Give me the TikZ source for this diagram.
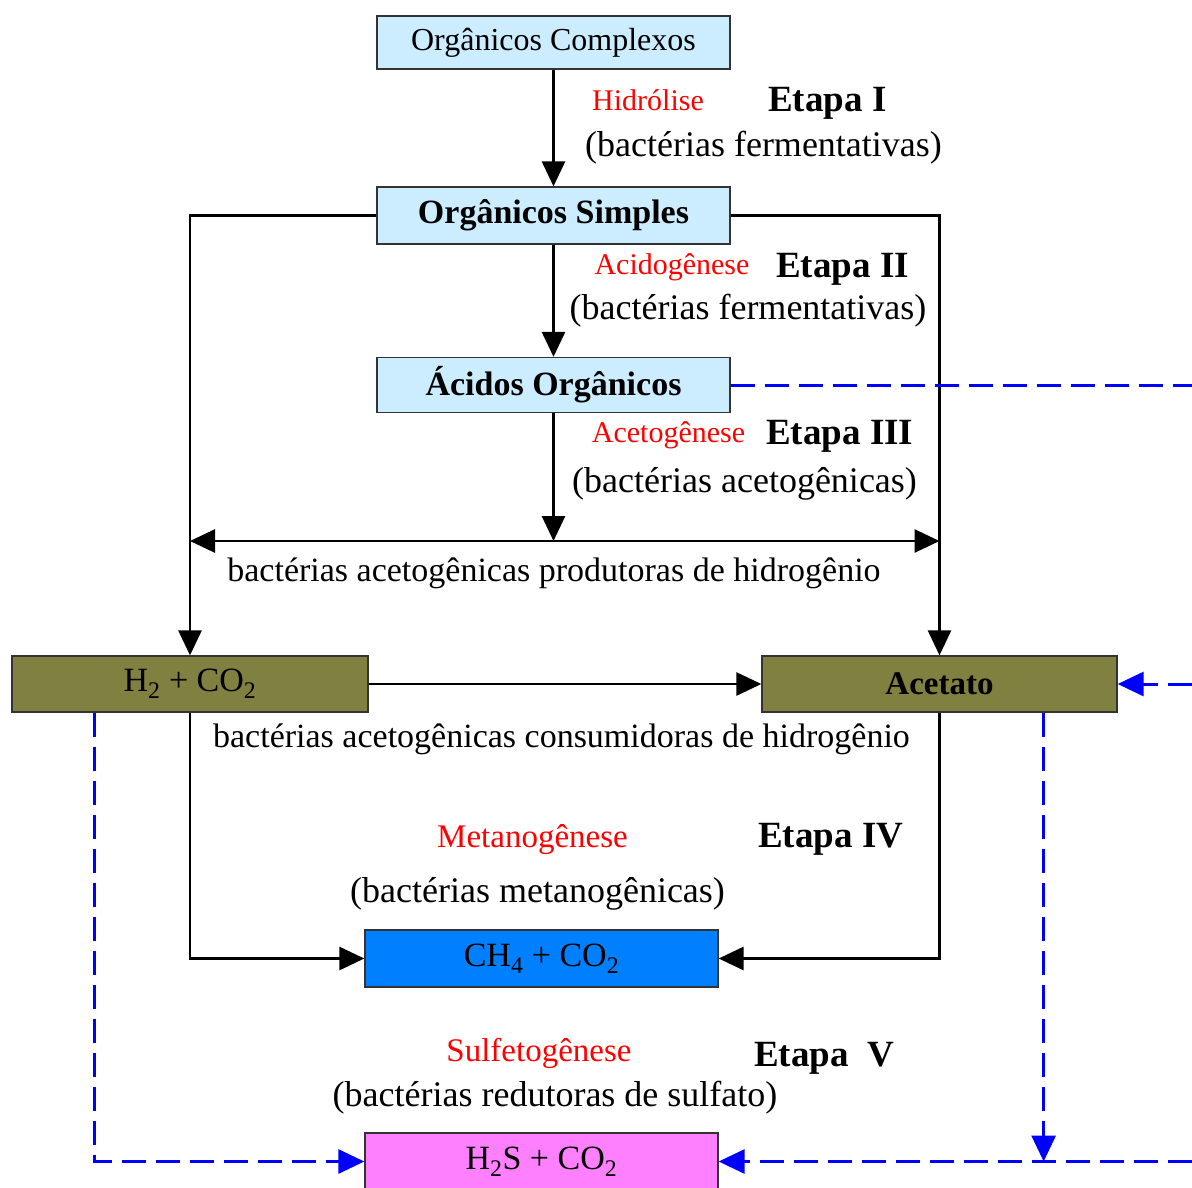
\documentclass[tikz,border=0pt]{standalone}
\usepackage{fontspec}
\setmainfont{Liberation Serif}
\usetikzlibrary{arrows.meta,calc}
\definecolor{boxblue}{HTML}{CCECFF}
\definecolor{olivebox}{HTML}{808040}
\definecolor{methblue}{HTML}{0080FF}
\definecolor{pinkbox}{HTML}{FF80FF}
\newcommand{\fsz}[1]{\fontsize{#1}{#1}\selectfont}
\begin{document}
\begin{tikzpicture}[x=1pt,y=-1pt,
  box/.style={draw=black!80,line width=1.3pt,inner sep=0pt,minimum width=353pt,minimum height=55pt,font=\fsz{34}},
  flow/.style={line width=2.8pt,-{Triangle[width=23pt,length=25pt]}},
  dashline/.style={blue,line width=3pt,dash pattern=on 24pt off 10pt},
  dflow/.style={dashline,-{Triangle[width=24pt,length=26pt]}},
  redlabel/.style={text=red,inner sep=0pt,font=\fsz{30}},
  redbig/.style={text=red,inner sep=0pt,font=\fsz{33}},
  etapa/.style={inner sep=0pt,anchor=west,font=\fsz{37}\bfseries},
  paren/.style={inner sep=0pt,font=\fsz{36}},
  plain/.style={inner sep=0pt,font=\fsz{34}}
]
\useasboundingbox (0,0) rectangle (1192,1187);
\coordinate (edge) at (1192,0);

% boxes
\node[box,fill=boxblue,minimum height=53pt,font=\fsz{32}] (oc) at (553.5,42.5) {Orgânicos Complexos};
\node[box,fill=boxblue,minimum height=57pt,font=\fsz{34}\bfseries] (os) at (553.5,215.5) {Orgânicos Simples};
\node[box,fill=boxblue,font=\fsz{34}\bfseries] (ao) at (553.5,385) {Ácidos Orgânicos};
\node[box,fill=olivebox,minimum width=356pt,minimum height=56pt] (h2) at (190,684) {H\textsubscript{2} + CO\textsubscript{2}};
\node[box,fill=olivebox,minimum width=355pt,minimum height=56pt,font=\fsz{33}\bfseries] (ac) at (939.5,684) {Acetato};
\node[box,fill=methblue,minimum height=57pt] (ch4) at (541.5,958.5) {CH\textsubscript{4} + CO\textsubscript{2}};
\node[box,fill=pinkbox,minimum height=57pt] (h2s) at (541.5,1161.5) {H\textsubscript{2}S + CO\textsubscript{2}};

% labels
\node[redlabel] (l1) at (648,100) {Hidrólise};
\node[etapa] (e1) at (768,103) {Etapa I};
\node[paren] (p1) at (763.5,148) {(bactérias fermentativas)};
\node[redlabel] (l2) at (672,267) {Acidogênese};
\node[etapa] (e2) at (776,269) {Etapa II};
\node[paren] (p2) at (748,311) {(bactérias fermentativas)};
\node[redlabel] (l3) at (668.5,435) {Acetogênese};
\node[etapa] (e3) at (766,436) {Etapa III};
\node[paren] (p3) at (744.5,484) {(bactérias acetogênicas)};
\node[plain] (t1) at (554,573) {bactérias acetogênicas produtoras de hidrogênio};
\node[plain] (t2) at (561.5,739) {bactérias acetogênicas consumidoras de hidrogênio};
\node[redbig] (l4) at (532.5,840) {Metanogênese};
\node[etapa] (e4) at (758,839) {Etapa IV};
\node[paren] (p4) at (537.5,894) {(bactérias metanogênicas)};
\node[redbig] (l5) at (539,1053) {Sulfetogênese};
\node[etapa] (e5) at (754,1058) {Etapa\ \ V};
\node[paren] (p5) at (555,1098) {(bactérias redutoras de sulfato)};

% black connectors
\coordinate (mid) at (553.5,541);
\coordinate (leftend) at (190,541);
\coordinate (rightend) at (939.5,541);
\draw[flow] (oc.south) -- (os.north);
\draw[flow] (os.south) -- (ao.north);
\draw[flow] (ao.south) -- (mid);
\draw[flow] (os.west) -| (h2.north);
\draw[flow] (os.east) -| (ac.north);
\draw[line width=2.8pt,{Triangle[width=23pt,length=25pt]}-{Triangle[width=23pt,length=25pt]}] (leftend) -- (rightend);
\draw[flow] (h2.east) -- (ac.west);
\draw[flow] (h2.south) |- (ch4.west);
\draw[flow] (ac.south) |- (ch4.east);

% blue dashed connectors
\coordinate (hdrop) at ($(h2.south west)+(83,0)$);
\coordinate (adrop) at ($(ac.south east)+(-74,0)$);
\draw[dashline] (ao.east) -- (ao.east -| edge);
\draw[dflow] (ac.east -| edge) -- (ac.east);
\draw[dflow] (h2s.east -| edge) -- (h2s.east);
\draw[dflow] (hdrop) |- (h2s.west);
\draw[dflow] (adrop) -- (adrop |- h2s.east);
\end{tikzpicture}
\end{document}
